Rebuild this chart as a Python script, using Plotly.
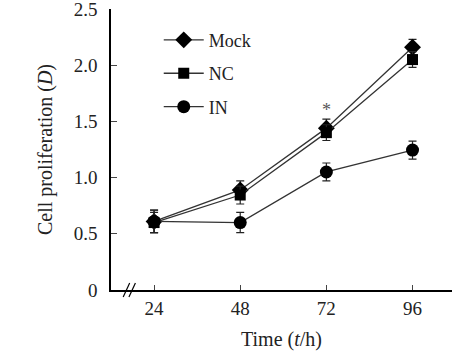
import plotly.graph_objects as go

time_h = [24, 48, 72, 96]
mock = [0.61, 0.89, 1.44, 2.16]
mock_err = [0.10, 0.08, 0.08, 0.07]
nc = [0.60, 0.845, 1.40, 2.05]
nc_err = [0.09, 0.08, 0.07, 0.07]
inn = [0.61, 0.60, 1.05, 1.245]
inn_err = [0.10, 0.09, 0.08, 0.08]
series = [("Mock", mock, mock_err, "diamond", 13),
          ("NC", nc, nc_err, "square", 11),
          ("IN", inn, inn_err, "circle", 13)]
y_ticks = [0, 0.5, 1.0, 1.5, 2.0, 2.5]
y_tick_text = ["0", "0.5", "1.0", "1.5", "2.0", "2.5"]
FONT = "Liberation Serif, Times New Roman, serif"

fig = go.Figure()
for i, (name, vals, errs, sym, sz) in enumerate(series):
    fig.add_trace(go.Scatter(
        x=time_h, y=vals, name=name, mode="lines+markers",
        legendgroup=name,
        line=dict(color="#333", width=1.3),
        marker=dict(symbol=sym, size=sz, color="black"),
        error_y=dict(type="data", array=errs, visible=True, color="#222", thickness=1.2, width=4),
    ))

fig.add_annotation(x=72, y=1.6, text="*", showarrow=False,
                   font=dict(family=FONT, size=18, color="#555"))

# axis break marks
for dx in (0, 1.6):
    fig.add_shape(type="line", xref="x", yref="paper",
                  x0=15.4 + dx, x1=17.2 + dx, y0=-0.025, y1=0.025,
                  line=dict(color="black", width=1.2))

TICKFONT = dict(family=FONT, size=19, color="#222")
fig.update_layout(
    width=452, height=352,
    margin=dict(l=111, r=0, t=9, b=62),
    paper_bgcolor="white", plot_bgcolor="white",
    font=dict(family=FONT, size=17, color="#222"),
    showlegend=True,
    legend=dict(x=0.14, y=0.955, xanchor="left", yanchor="top",
                bgcolor="rgba(0,0,0,0)", font=dict(family=FONT, size=18, color="#222"),
                tracegroupgap=7, itemwidth=40),
    xaxis=dict(range=[12, 107], tickvals=time_h, ticks="inside", ticklen=5,
               showline=True, linecolor="black", linewidth=1.5, showgrid=False,
               zeroline=False, tickfont=TICKFONT,
               title=dict(text="Time (<i>t</i>/h)", standoff=14)),
    yaxis=dict(range=[0, 2.5], tickvals=y_ticks, ticktext=y_tick_text,
               ticks="inside", ticklen=6, showline=True, linecolor="black",
               linewidth=1.5, showgrid=False, zeroline=False, tickfont=TICKFONT,
               ticklabelstandoff=8, ticklabeloverflow="allow",
               title=dict(text="Cell proliferation (<i>D</i>)", standoff=16)),
)
fig.write_html("out.html")
